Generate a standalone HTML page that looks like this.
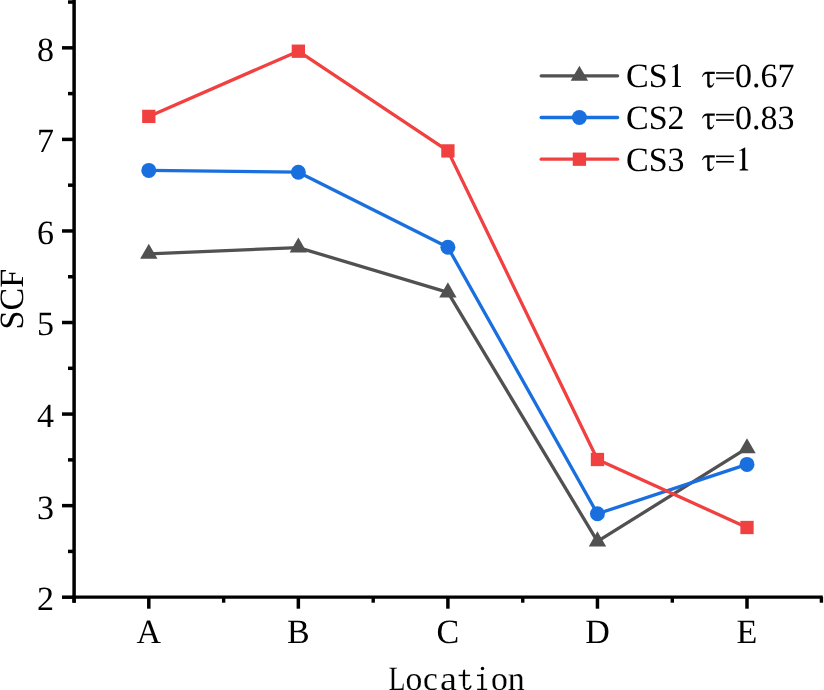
<!DOCTYPE html><html><head><meta charset="utf-8"><style>html,body{margin:0;padding:0;background:#fff;overflow:hidden}svg{display:block;will-change:transform}text{font-family:"Liberation Serif",serif;fill:#000;text-rendering:geometricPrecision}</style></head><body>
<svg width="824" height="690" viewBox="0 0 824 690">
<g stroke="#000" fill="none">
<line x1="74.1" y1="0.0" x2="74.1" y2="602.7" stroke-width="3.5"/>
<line x1="72.35" y1="597.1" x2="822.8" y2="597.1" stroke-width="3.4"/>
<line x1="62" y1="597.20" x2="74.1" y2="597.20" stroke-width="3.5"/>
<line x1="62" y1="505.64" x2="74.1" y2="505.64" stroke-width="3.5"/>
<line x1="62" y1="414.08" x2="74.1" y2="414.08" stroke-width="3.5"/>
<line x1="62" y1="322.52" x2="74.1" y2="322.52" stroke-width="3.5"/>
<line x1="62" y1="230.96" x2="74.1" y2="230.96" stroke-width="3.5"/>
<line x1="62" y1="139.40" x2="74.1" y2="139.40" stroke-width="3.5"/>
<line x1="62" y1="47.84" x2="74.1" y2="47.84" stroke-width="3.5"/>
<line x1="68" y1="551.42" x2="74.1" y2="551.42" stroke-width="3.5"/>
<line x1="68" y1="459.86" x2="74.1" y2="459.86" stroke-width="3.5"/>
<line x1="68" y1="368.30" x2="74.1" y2="368.30" stroke-width="3.5"/>
<line x1="68" y1="276.74" x2="74.1" y2="276.74" stroke-width="3.5"/>
<line x1="68" y1="185.18" x2="74.1" y2="185.18" stroke-width="3.5"/>
<line x1="68" y1="93.62" x2="74.1" y2="93.62" stroke-width="3.5"/>
<line x1="68" y1="2.06" x2="74.1" y2="2.06" stroke-width="3.5"/>
<line x1="148.80" y1="597.1" x2="148.80" y2="608.7" stroke-width="3.5"/>
<line x1="298.35" y1="597.1" x2="298.35" y2="608.7" stroke-width="3.5"/>
<line x1="447.90" y1="597.1" x2="447.90" y2="608.7" stroke-width="3.5"/>
<line x1="597.45" y1="597.1" x2="597.45" y2="608.7" stroke-width="3.5"/>
<line x1="747.00" y1="597.1" x2="747.00" y2="608.7" stroke-width="3.5"/>
<line x1="74.10" y1="597.1" x2="74.10" y2="602.7" stroke-width="3.4"/>
<line x1="223.65" y1="597.1" x2="223.65" y2="602.7" stroke-width="3.4"/>
<line x1="373.20" y1="597.1" x2="373.20" y2="602.7" stroke-width="3.4"/>
<line x1="522.75" y1="597.1" x2="522.75" y2="602.7" stroke-width="3.4"/>
<line x1="672.30" y1="597.1" x2="672.30" y2="602.7" stroke-width="3.4"/>
<line x1="821.40" y1="597.1" x2="821.40" y2="602.7" stroke-width="3.4"/>
</g>
<text x="53.9" y="610.10" font-size="34" text-anchor="end">2</text>
<text x="53.9" y="518.54" font-size="34" text-anchor="end">3</text>
<text x="53.9" y="426.98" font-size="34" text-anchor="end">4</text>
<text x="53.9" y="335.42" font-size="34" text-anchor="end">5</text>
<text x="53.9" y="243.86" font-size="34" text-anchor="end">6</text>
<text x="53.9" y="152.30" font-size="34" text-anchor="end">7</text>
<text x="53.9" y="60.74" font-size="34" text-anchor="end">8</text>
<text x="148.80" y="643" font-size="34" text-anchor="middle">A</text>
<text x="298.35" y="643" font-size="34" text-anchor="middle">B</text>
<text x="447.90" y="643" font-size="34" text-anchor="middle">C</text>
<text x="597.45" y="643" font-size="34" text-anchor="middle">D</text>
<text x="747.00" y="643" font-size="34" text-anchor="middle">E</text>
<text transform="translate(396.93,689.5) scale(0.82,1)" font-size="34" text-anchor="middle" stroke="#fff" stroke-width="0.15">L</text>
<text transform="translate(414.00,689.5) scale(0.99,1)" font-size="34" text-anchor="middle" stroke="#fff" stroke-width="0.12">o</text>
<text transform="translate(430.38,689.5) scale(0.98,1)" font-size="34" text-anchor="middle" stroke="#fff" stroke-width="0.12">c</text>
<text transform="translate(448.34,689.5) scale(1.12,1)" font-size="34" text-anchor="middle" stroke="#fff" stroke-width="0.11">a</text>
<g fill="none" stroke="#000" stroke-linecap="butt"><path d="M458.6 675.4H470.1" stroke-width="1.5"/><path d="M464.0 686.0V672.5" stroke-width="2.3"/><path d="M464.0 685.5C464.0 688.0 465.3 689.2 467.2 689.2C469.0 689.2 470.3 687.8 470.9 685.6" stroke-width="1.7"/></g>
<path d="M462.95 673.0L463.3 669.9L465.05 669.6L465.05 673.0Z" fill="#000"/>
<circle cx="482.5" cy="668.5" r="1.75" fill="#000"/>
<g fill="none" stroke="#000"><path d="M477.0 675.4H482.2" stroke-width="1.5"/><path d="M482.2 674.0V689.3" stroke-width="2.2"/><path d="M477.2 689.4H487.2" stroke-width="1.4"/></g>
<text transform="translate(499.50,689.5) scale(0.99,1)" font-size="34" text-anchor="middle" stroke="#fff" stroke-width="0.12">o</text>
<text transform="translate(516.27,689.5) scale(1.0,1)" font-size="34" text-anchor="middle" stroke="#fff" stroke-width="0.12">n</text>
<text transform="translate(23.4,299.2) rotate(-90)" font-size="34" text-anchor="middle">SCF</text>
<polyline points="148.80,253.80 298.35,247.60 447.90,292.40 597.45,541.40 747.00,448.20" fill="none" stroke="#515151" stroke-width="3.3" stroke-linejoin="round"/>
<polyline points="148.80,170.40 298.35,172.20 447.90,247.30 597.45,513.80 747.00,464.40" fill="none" stroke="#1A6FDF" stroke-width="3.3" stroke-linejoin="round"/>
<polyline points="148.80,116.40 298.35,51.20 447.90,150.90 597.45,459.50 747.00,527.50" fill="none" stroke="#F14040" stroke-width="3.3" stroke-linejoin="round"/>
<polygon points="148.80,243.75 140.10,258.82 157.50,258.82" fill="#515151"/>
<polygon points="298.35,237.55 289.65,252.62 307.05,252.62" fill="#515151"/>
<polygon points="447.90,282.35 439.20,297.42 456.60,297.42" fill="#515151"/>
<polygon points="597.45,531.35 588.75,546.42 606.15,546.42" fill="#515151"/>
<polygon points="747.00,438.15 738.30,453.22 755.70,453.22" fill="#515151"/>
<circle cx="148.80" cy="170.40" r="7.5" fill="#1A6FDF"/>
<circle cx="298.35" cy="172.20" r="7.5" fill="#1A6FDF"/>
<circle cx="447.90" cy="247.30" r="7.5" fill="#1A6FDF"/>
<circle cx="597.45" cy="513.80" r="7.5" fill="#1A6FDF"/>
<circle cx="747.00" cy="464.40" r="7.5" fill="#1A6FDF"/>
<rect x="142.15" y="109.75" width="13.3" height="13.3" fill="#F14040"/>
<rect x="291.70" y="44.55" width="13.3" height="13.3" fill="#F14040"/>
<rect x="441.25" y="144.25" width="13.3" height="13.3" fill="#F14040"/>
<rect x="590.80" y="452.85" width="13.3" height="13.3" fill="#F14040"/>
<rect x="740.35" y="520.85" width="13.3" height="13.3" fill="#F14040"/>
<line x1="541.2" y1="75.80" x2="617.6" y2="75.80" stroke="#515151" stroke-width="3.3" stroke-linecap="round"/>
<polygon points="579.40,65.75 570.70,80.82 588.10,80.82" fill="#515151"/>
<text x="626" y="87.40" font-size="34">CS</text>
<path transform="translate(0,-0.00)" d="M677.9 64.1L677.9 84.4C677.9 85.6 678.7 86.0 680.9 86.1L680.9 87.1L672.3 87.1L672.3 86.1C674.2 86.0 674.9 85.6 674.9 84.4L674.9 68.6C674.9 67.5 674.5 67.1 673.8 67.1C673.3 67.1 672.7 67.3 672.2 67.5L671.9 67.0L677.5 64.1Z" fill="#000"/>
<path transform="translate(0,-0.00)" d="M702.0 76.7C702.7 74.1 704.1 71.8 706.6 71.8L714.8 71.8L714.8 74.0L709.6 74.0L709.6 83.6C709.6 85.0 710.4 85.7 711.4 85.5C712.4 85.3 713.2 84.2 713.7 83.0L714.3 83.2C713.6 85.9 712.0 87.8 709.8 87.8C708.0 87.8 707.2 86.5 707.2 84.5L707.2 74.0L706.1 74.0C704.6 74.0 703.4 75.0 702.6 76.9Z" fill="#000"/>
<rect x="716.1" y="72.15" width="17.8" height="1.55" fill="#000"/>
<rect x="716.1" y="77.55" width="17.8" height="1.65" fill="#000"/>
<text x="734.9" y="87.40" font-size="34">0.67</text>
<line x1="541.2" y1="117.50" x2="617.6" y2="117.50" stroke="#1A6FDF" stroke-width="3.3" stroke-linecap="round"/>
<circle cx="579.40" cy="117.50" r="7.5" fill="#1A6FDF"/>
<text x="626" y="129.10" font-size="34">CS2</text>
<path transform="translate(0,41.70)" d="M702.0 76.7C702.7 74.1 704.1 71.8 706.6 71.8L714.8 71.8L714.8 74.0L709.6 74.0L709.6 83.6C709.6 85.0 710.4 85.7 711.4 85.5C712.4 85.3 713.2 84.2 713.7 83.0L714.3 83.2C713.6 85.9 712.0 87.8 709.8 87.8C708.0 87.8 707.2 86.5 707.2 84.5L707.2 74.0L706.1 74.0C704.6 74.0 703.4 75.0 702.6 76.9Z" fill="#000"/>
<rect x="716.1" y="113.85" width="17.8" height="1.55" fill="#000"/>
<rect x="716.1" y="119.25" width="17.8" height="1.65" fill="#000"/>
<text x="734.9" y="129.10" font-size="34">0.83</text>
<line x1="541.2" y1="159.20" x2="617.6" y2="159.20" stroke="#F14040" stroke-width="3.3" stroke-linecap="round"/>
<rect x="572.75" y="152.55" width="13.3" height="13.3" fill="#F14040"/>
<text x="626" y="170.80" font-size="34">CS3</text>
<path transform="translate(0,83.40)" d="M702.0 76.7C702.7 74.1 704.1 71.8 706.6 71.8L714.8 71.8L714.8 74.0L709.6 74.0L709.6 83.6C709.6 85.0 710.4 85.7 711.4 85.5C712.4 85.3 713.2 84.2 713.7 83.0L714.3 83.2C713.6 85.9 712.0 87.8 709.8 87.8C708.0 87.8 707.2 86.5 707.2 84.5L707.2 74.0L706.1 74.0C704.6 74.0 703.4 75.0 702.6 76.9Z" fill="#000"/>
<rect x="716.1" y="155.55" width="17.8" height="1.55" fill="#000"/>
<rect x="716.1" y="160.95" width="17.8" height="1.65" fill="#000"/>
<path transform="translate(67.31,83.40)" d="M677.9 64.1L677.9 84.4C677.9 85.6 678.7 86.0 680.9 86.1L680.9 87.1L672.3 87.1L672.3 86.1C674.2 86.0 674.9 85.6 674.9 84.4L674.9 68.6C674.9 67.5 674.5 67.1 673.8 67.1C673.3 67.1 672.7 67.3 672.2 67.5L671.9 67.0L677.5 64.1Z" fill="#000"/>
</svg></body></html>
